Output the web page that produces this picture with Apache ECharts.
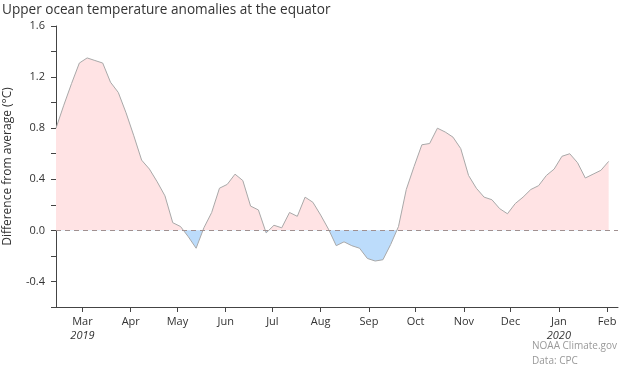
<!DOCTYPE html>
<html>
<head>
<meta charset="utf-8">
<script src="https://cdn.jsdelivr.net/npm/echarts@6/dist/echarts.min.js"></script>
<style>html,body{margin:0;padding:0;background:#fff}#c{width:620px;height:367px}</style>
</head>
<body>
<div id="c"></div>
<script>
// Pentad centre dates
var pentadDates = [
  '2019-02-12','2019-02-17','2019-02-22','2019-02-27',
  '2019-03-04','2019-03-09','2019-03-14','2019-03-19','2019-03-24','2019-03-29',
  '2019-04-03','2019-04-08','2019-04-13','2019-04-18','2019-04-23','2019-04-28',
  '2019-05-03','2019-05-08','2019-05-13','2019-05-18','2019-05-23','2019-05-28',
  '2019-06-02','2019-06-07','2019-06-12','2019-06-17','2019-06-22','2019-06-27',
  '2019-07-02','2019-07-07','2019-07-12','2019-07-17','2019-07-22','2019-07-27',
  '2019-08-01','2019-08-06','2019-08-11','2019-08-16','2019-08-21','2019-08-26','2019-08-31',
  '2019-09-05','2019-09-10','2019-09-15','2019-09-20','2019-09-25','2019-09-30',
  '2019-10-05','2019-10-10','2019-10-15','2019-10-20','2019-10-25','2019-10-30',
  '2019-11-04','2019-11-09','2019-11-14','2019-11-19','2019-11-24','2019-11-29',
  '2019-12-04','2019-12-09','2019-12-14','2019-12-19','2019-12-24','2019-12-29',
  '2020-01-03','2020-01-08','2020-01-13','2020-01-18','2020-01-23','2020-01-28',
  '2020-02-02'
];
// Anomaly values (deg C)
var anomalies = [
  0.80, 0.98, 1.15, 1.31,
  1.35, 1.33, 1.31, 1.16, 1.08, 0.92,
  0.74, 0.55, 0.48, 0.38, 0.27, 0.06,
  0.03, -0.05, -0.14, 0.02, 0.14, 0.33,
  0.36, 0.44, 0.39, 0.19, 0.16, -0.02,
  0.04, 0.02, 0.14, 0.11, 0.26, 0.22,
  0.12, 0.01, -0.12, -0.09, -0.12, -0.14, -0.22,
  -0.24, -0.23, -0.11, 0.03, 0.32, 0.50,
  0.67, 0.68, 0.80, 0.77, 0.73, 0.64,
  0.43, 0.33, 0.26, 0.24, 0.17, 0.13,
  0.21, 0.26, 0.32, 0.35, 0.43, 0.48,
  0.58, 0.60, 0.53, 0.41, 0.44, 0.47,
  0.54
];
// Axis range (daily categories) and tick labels
var axisStart = '2019-02-12';
var axisEnd = '2020-02-08';
var monthNames = ['Jan','Feb','Mar','Apr','May','Jun','Jul','Aug','Sep','Oct','Nov','Dec'];
var yearLabels = {'2019-03':'2019','2020-01':'2020'};
var yTickLabels = ['-0.4','0.0','0.4','0.8','1.2','1.6'];

function pad(n){ return ('0'+n).slice(-2); }
function isoDay(t){ var d=new Date(t); return d.getUTCFullYear()+'-'+pad(d.getUTCMonth()+1)+'-'+pad(d.getUTCDate()); }
function toUTC(s){ var p=s.split('-'); return Date.UTC(+p[0], +p[1]-1, +p[2]); }
var days = [];
for (var t = toUTC(axisStart); t <= toUTC(axisEnd); t += 86400000) days.push(isoDay(t));

var seriesData = pentadDates.map(function(d,i){ return [d, anomalies[i]]; });
function isMonthStart(i, v){ return v.slice(8) === '01'; }

var FONT = 'Open Sans';
var chart = echarts.init(document.getElementById('c'), null, {renderer:'canvas'});
chart.setOption({
  animation: false,
  title: {
    text: 'Upper ocean temperature anomalies at the equator',
    left: 2, top: 3, padding: 0,
    textStyle: {fontFamily: FONT, fontSize: 13.6, fontWeight: 'normal', color: '#333'}
  },
  grid: {left: 56, right: 2, top: 26, bottom: 60, containLabel: false, outerBoundsMode: 'none'},
  visualMap: {
    show: false, type: 'piecewise', seriesIndex: 0, dimension: 1,
    pieces: [{gt: -10, lte: 0, color: '#bcdcfb'}, {gt: 0, lte: 10, color: '#ffe3e4'}]
  },
  xAxis: {
    type: 'category', data: days, boundaryGap: false,
    axisLine: {onZero: false, lineStyle: {color: '#444', width: 1}},
    axisTick: {show: true, length: 5, interval: isMonthStart, lineStyle: {color: '#444'}},
    splitLine: {show: false},
    axisLabel: {
      interval: isMonthStart,
      margin: 8,
      fontFamily: FONT, fontSize: 11, color: '#333', lineHeight: 14,
      formatter: function(v){
        var s = monthNames[+v.slice(5,7) - 1];
        var y = yearLabels[v.slice(0,7)];
        if (y) s += '\n{yr|' + y + '}';
        return s;
      },
      rich: {yr: {fontStyle: 'italic', fontFamily: FONT, fontSize: 11, color: '#333', lineHeight: 14}}
    }
  },
  yAxis: {
    type: 'value', min: -0.6, max: 1.6, interval: 0.2,
    name: 'Difference from average (°C)', nameLocation: 'middle', nameRotate: 90, nameGap: 42,
    nameTextStyle: {fontFamily: FONT, fontSize: 12, color: '#333'},
    axisLine: {show: true, lineStyle: {color: '#444', width: 1}},
    axisTick: {show: true, length: 5, lineStyle: {color: '#444'}},
    splitLine: {show: false},
    axisLabel: {
      margin: 11, fontFamily: FONT, fontSize: 11, color: '#333',
      formatter: function(v){
        var r = Math.round(v*10);
        var s = (r/10).toFixed(1);
        return yTickLabels.indexOf(s) >= 0 ? s : '';
      }
    }
  },
  series: [
    {
      type: 'line', data: seriesData, symbol: 'none', silent: true,
      lineStyle: {width: 0, opacity: 0},
      areaStyle: {opacity: 1, origin: 0},
      z: 1
    },
    {
      type: 'line', data: seriesData, symbol: 'none', silent: true,
      lineStyle: {width: 1, color: '#a8a8a8'},
      itemStyle: {color: '#a8a8a8'},
      z: 3,
      markLine: {
        silent: true, symbol: ['none','none'], label: {show: false},
        lineStyle: {type: [5,4], color: '#a09090', width: 1},
        data: [{yAxis: 0}]
      }
    }
  ],
  graphic: [{
    type: 'text', left: 532, top: 339,
    style: {text: 'NOAA Climate.gov\nData: CPC', fill: '#999', font: '10px "Open Sans"', lineHeight: 15}
  }]
});
</script>
</body>
</html>
